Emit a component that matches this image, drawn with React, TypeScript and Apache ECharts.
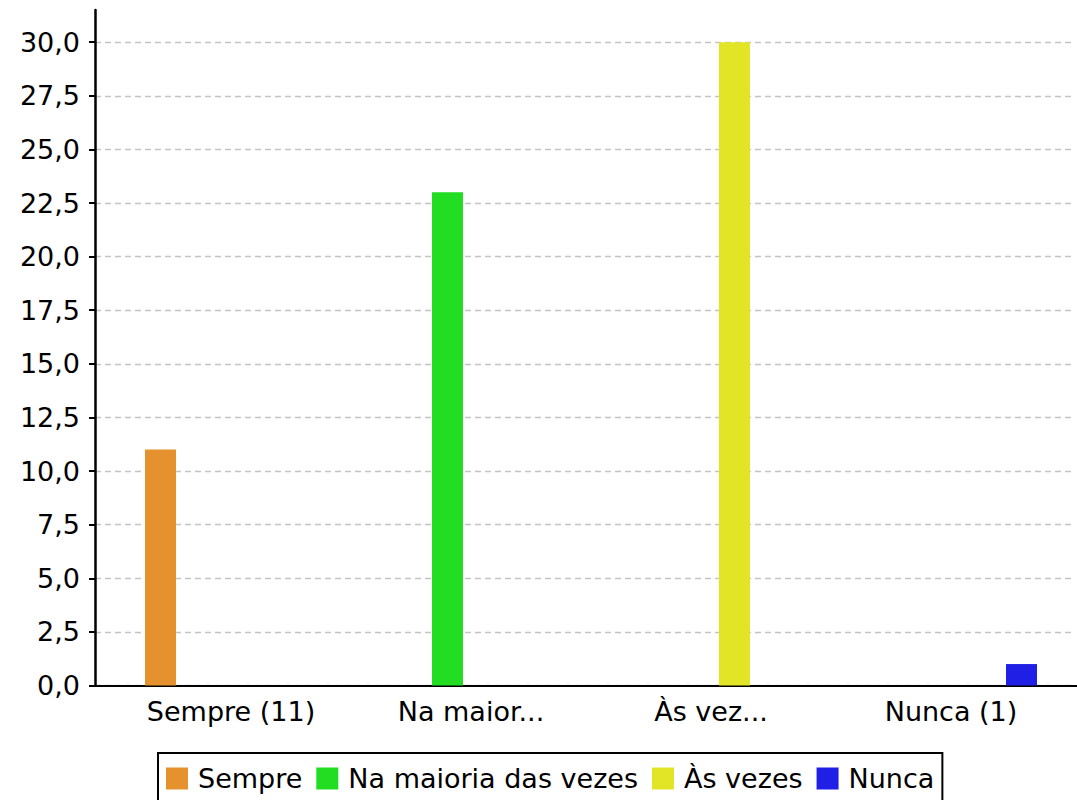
import React, { useEffect, useRef } from "react";
import * as echarts from "echarts";

const categories = ["Sempre (11)", "Na maior...", "Às vez...", "Nunca (1)"];
const seriesNames = ["Sempre", "Na maioria das vezes", "Às vezes", "Nunca"];
const values = [11, 23, 30, 1];
const colors = ["#e5912d", "#22dd22", "#e2e426", "#1f1fe6"];
const yMin = 0;
const yMaxTicks = 30;
const yAxisTop = 31.5;
const yInterval = 2.5;

const FONT = "DejaVu Sans";
const fmt = (v: number) => v.toFixed(1).replace(".", ",");

export default function App() {
  const ref = useRef<HTMLDivElement>(null);
  useEffect(() => {
    if (!ref.current) return;
    const chart = echarts.init(ref.current, null, { renderer: "svg" });
    const bottom = 114.5;
    const topA = 10;
    const plotH = 800 - bottom - topA;
    const topC = topA + plotH * (1 - yMaxTicks / yAxisTop);
    const series = seriesNames.map((name, i) => ({
      name,
      type: "bar",
      xAxisIndex: 0,
      yAxisIndex: 0,
      barWidth: 31,
      barGap: "51.6%",
      itemStyle: { color: colors[i] },
      data: categories.map((_, j) => (j === i ? values[i] : "-")),
    }));
    chart.setOption({
      animation: false,
      backgroundColor: "#ffffff",
      textStyle: { fontFamily: FONT },
      grid: [
        { left: 111, right: 6, top: topA, bottom, containLabel: false, outerBoundsMode: "none" },
        { left: 95, right: 0, top: topA, bottom, containLabel: false, outerBoundsMode: "none" },
        { left: 95, right: 2, top: topC, bottom, containLabel: false, outerBoundsMode: "none" },
      ],
      xAxis: [
        {
          type: "category",
          gridIndex: 0,
          data: categories,
          axisLine: { show: false },
          axisTick: { show: false },
          splitLine: { show: false },
          axisLabel: { fontSize: 27, color: "#000", fontFamily: FONT, margin: 12, interval: 0 },
        },
        {
          type: "value",
          gridIndex: 1,
          min: 0,
          max: 1,
          axisLine: { show: true, lineStyle: { color: "#000", width: 2 } },
          axisTick: { show: false },
          axisLabel: { show: false },
          splitLine: { show: false },
        },
        { type: "value", gridIndex: 2, min: 0, max: 1, show: false },
      ],
      yAxis: [
        { type: "value", gridIndex: 0, min: yMin, max: yAxisTop, show: false },
        {
          type: "value",
          gridIndex: 1,
          min: yMin,
          max: yAxisTop,
          axisLine: { show: true, lineStyle: { color: "#000", width: 2.5 } },
          axisTick: { show: false },
          axisLabel: { show: false },
          splitLine: { show: false },
        },
        {
          type: "value",
          gridIndex: 2,
          min: yMin,
          max: yMaxTicks,
          interval: yInterval,
          axisLine: { show: false },
          axisTick: { show: true, inside: false, length: 6, lineStyle: { color: "#000", width: 2 } },
          axisLabel: { fontSize: 27, color: "#000", fontFamily: FONT, margin: 15, formatter: fmt },
          splitLine: { show: true, lineStyle: { color: "#c4c4c4", width: 1.3, type: [6, 4] } },
        },
      ],
      legend: {
        data: seriesNames,
        left: 158,
        top: 753,
        orient: "horizontal",
        icon: "rect",
        itemWidth: 22,
        itemHeight: 22,
        itemGap: 14,
        padding: [12, 8, 14, 8],
        borderColor: "#000",
        borderWidth: 2,
        selectedMode: false,
        textStyle: { fontSize: 27, color: "#000", fontFamily: FONT, padding: [0, 0, 0, 5] },
      },
      series,
    });
    return () => chart.dispose();
  }, []);
  return (
    <div
      ref={ref}
      style={{ position: "absolute", left: 0, top: 0, width: 1077, height: 800 }}
    />
  );
}
